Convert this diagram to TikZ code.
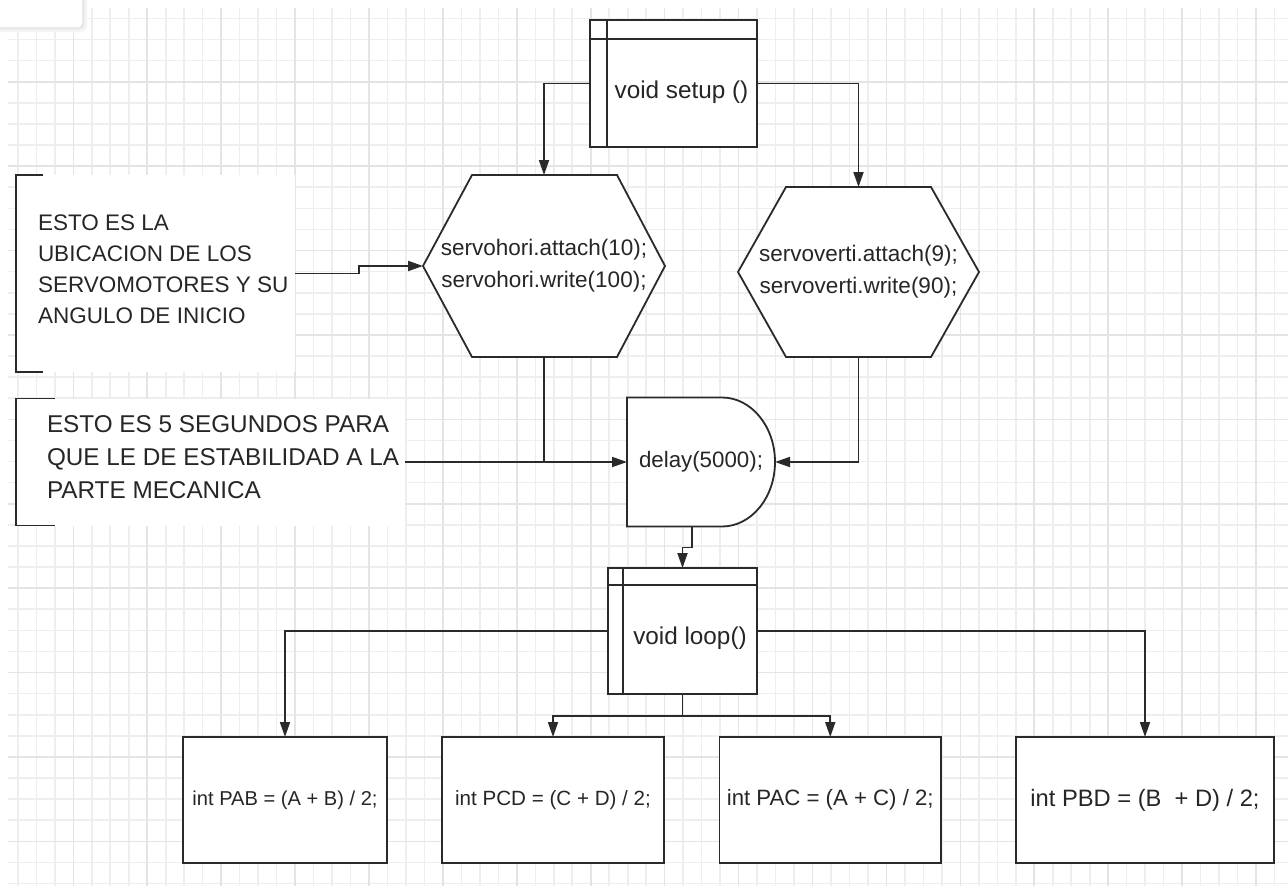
\documentclass[tikz,border=0pt]{standalone}
\usepackage{fontspec}
\setmainfont{Liberation Sans}
\usetikzlibrary{arrows.meta,calc,backgrounds}
\pgfdeclarelayer{gridlayer}
\pgfsetlayers{gridlayer,background,main}

\definecolor{ink}{HTML}{2A2A2A}
\definecolor{txt}{HTML}{262626}
\definecolor{gridminor}{HTML}{EEEEEE}
\definecolor{gridmajor}{HTML}{E4E4E4}

\tikzset{
  line/.style={draw=ink, line width=1.8pt},
  arrow/.style={line, -{Triangle[length=15pt,width=10pt]}},
  shapeline/.style={line, fill=white, line join=miter},
  plain/.style={inner sep=0pt, outer sep=0pt, text=txt},
  procbox/.style n args={2}{plain, draw=ink, line width=1.8pt, fill=white,
    path picture={\draw[line]
      ([xshift=#1]path picture bounding box.north west) -- ([xshift=#1]path picture bounding box.south west)
      ([yshift=-#2]path picture bounding box.north west) -- ([yshift=-#2]path picture bounding box.north east);}},
  proctext/.style={plain, font=\fontsize{24.3pt}{28pt}\selectfont},
  hexnode/.style={plain, align=center, font=\fontsize{22.5pt}{32pt}\selectfont},
  delaynode/.style={plain, font=\fontsize{22.3pt}{26pt}\selectfont},
  annbox/.style={plain, fill=white},
  anntext/.style={plain, align=left, anchor=west},
  codebox/.style={plain, draw=ink, line width=1.8pt, fill=white, minimum height=126pt},
}

\begin{document}
\begin{tikzpicture}[x=1pt,y=-1pt]
\useasboundingbox (0,0) rectangle (1288,886);

% squared paper
\begin{pgfonlayer}{gridlayer}
  \fill[white] (0,0) rectangle (1288,886);
  \begin{scope}
    \clip (8,8) rectangle (1288,886);
    \foreach \k in {-4,...,66}
      \draw[gridminor, line width=1.6pt] ({73.3+\k*18.48},8) -- ({73.3+\k*18.48},886);
    \foreach \k in {-4,...,38}
      \draw[gridminor, line width=1.6pt] (8,{81.7+\k*21.1}) -- (1288,{81.7+\k*21.1});
    \foreach \k in {-4,0,...,64}
      \draw[gridmajor, line width=1.6pt] ({73.3+\k*18.48},8) -- ({73.3+\k*18.48},886);
    \foreach \k in {-4,0,...,36}
      \draw[gridmajor, line width=1.6pt] (8,{81.7+\k*21.1}) -- (1288,{81.7+\k*21.1});
  \end{scope}
  % small panel in the corner
  \fill[black!4, rounded corners=6pt] (-10,-10) rectangle (87,32);
  \fill[black!9, rounded corners=5pt] (-10,-10) rectangle (84.5,29.5);
  \fill[white, rounded corners=4pt] (-10,-10) rectangle (82,27);
\end{pgfonlayer}

% setup block
\node[procbox={17pt}{19pt}, minimum width=167pt, minimum height=127pt,
      label={[proctext, xshift=8pt, yshift=-8.5pt]center:void setup ()}] (setup) at (673.5,83.5) {};

% servo initialisation
\node[hexnode, minimum width=242pt, minimum height=182pt] (hexh) at (544,266)
  {servohori.attach(10);\\ servohori.write(100);};
\node[hexnode, minimum width=241pt, minimum height=170pt] (hexv) at (858.5,272)
  {servoverti.attach(9);\\ servoverti.write(90);};

% delay
\node[delaynode, minimum width=148pt, minimum height=129pt] (delay) at (701,462) {delay(5000);};

% loop block
\node[procbox={15pt}{17pt}, minimum width=149pt, minimum height=126pt,
      label={[proctext, xshift=7.5pt, yshift=-7pt]center:void loop()}] (loop) at (682.5,631) {};

% averages
\node[codebox, minimum width=204pt, font=\fontsize{20.1pt}{24pt}\selectfont] (pab) at (285,800) {int PAB = (A + B) / 2;};
\node[codebox, minimum width=222pt, font=\fontsize{20.6pt}{24pt}\selectfont] (pcd) at (553,800) {int PCD = (C + D) / 2;};
\node[codebox, minimum width=221.5pt, font=\fontsize{22.2pt}{26pt}\selectfont] (pac) at (830.25,800) {int PAC = (A + C) / 2;};
\node[codebox, minimum width=258pt, font=\fontsize{23.7pt}{28pt}\selectfont] (pbd) at (1145,800) {int PBD = (B\ \ + D) / 2;};

% comments
\node[annbox, minimum width=279pt, minimum height=197pt] (ann1) at (155.5,273.5) {};
\node[anntext, font=\fontsize{22.5pt}{31pt}\selectfont] (ann1text) at (38,269.5)
  {ESTO ES LA\\UBICACION DE LOS\\SERVOMOTORES Y SU\\ANGULO DE INICIO};
\node[annbox, minimum width=389pt, minimum height=127pt] (ann2) at (210.5,462) {};
\node[anntext, font=\fontsize{24.3pt}{33pt}\selectfont] (ann2text) at (47,457.3)
  {ESTO ES 5 SEGUNDOS PARA\\QUE LE DE ESTABILIDAD A LA\\PARTE MECANICA};

\draw[line] ([xshift=27pt]ann1.north west) -- (ann1.north west) -- (ann1.south west) -- ([xshift=27pt]ann1.south west);
\draw[line] ([xshift=39pt]ann2.north west) -- (ann2.north west) -- (ann2.south west) -- ([xshift=39pt]ann2.south west);

% outlines of the hexagons and the delay shape
\begin{pgfonlayer}{background}
  \draw[shapeline] (hexh.west) -- ([xshift=49pt]hexh.north west) -- ([xshift=-48pt]hexh.north east)
    -- (hexh.east) -- ([xshift=-48pt]hexh.south east) -- ([xshift=49pt]hexh.south west) -- cycle;
  \draw[shapeline] (hexv.west) -- ([xshift=48pt]hexv.north west) -- ([xshift=-48pt]hexv.north east)
    -- (hexv.east) -- ([xshift=-48pt]hexv.south east) -- ([xshift=48pt]hexv.south west) -- cycle;
  \draw[shapeline] (delay.north west) -- ([xshift=-53pt]delay.north east)
    arc[start angle=90, end angle=-90, x radius=53pt, y radius=64.5pt]
    -- (delay.south west) -- cycle;
\end{pgfonlayer}

% connectors
\draw[arrow] (setup.west) -| (hexh.north);
\draw[arrow] (setup.east) -| (hexv.north);
\draw[arrow] (ann1.east) -| ($(ann1.east)!.5!(hexh.west)$) |- (hexh.west);
\draw[arrow] (ann2.east) -- (ann2.east -| delay.west);
\draw[line] (hexh.south) -- (hexh.south |- delay.west);
\draw[arrow] (hexv.south) |- (delay.east);
\draw[arrow] ([xshift=-9pt]delay.south) -- ++(0,21) -| (loop.north);
\draw[arrow] (loop.west) -| (pab.north);
\draw[arrow] (loop.east) -| (pbd.north);
\draw[line] (loop.south) -- ++(0,22) coordinate (split);
\draw[arrow] (split) -| (pcd.north);
\draw[arrow] (split) -| (pac.north);
\end{tikzpicture}
\end{document}
